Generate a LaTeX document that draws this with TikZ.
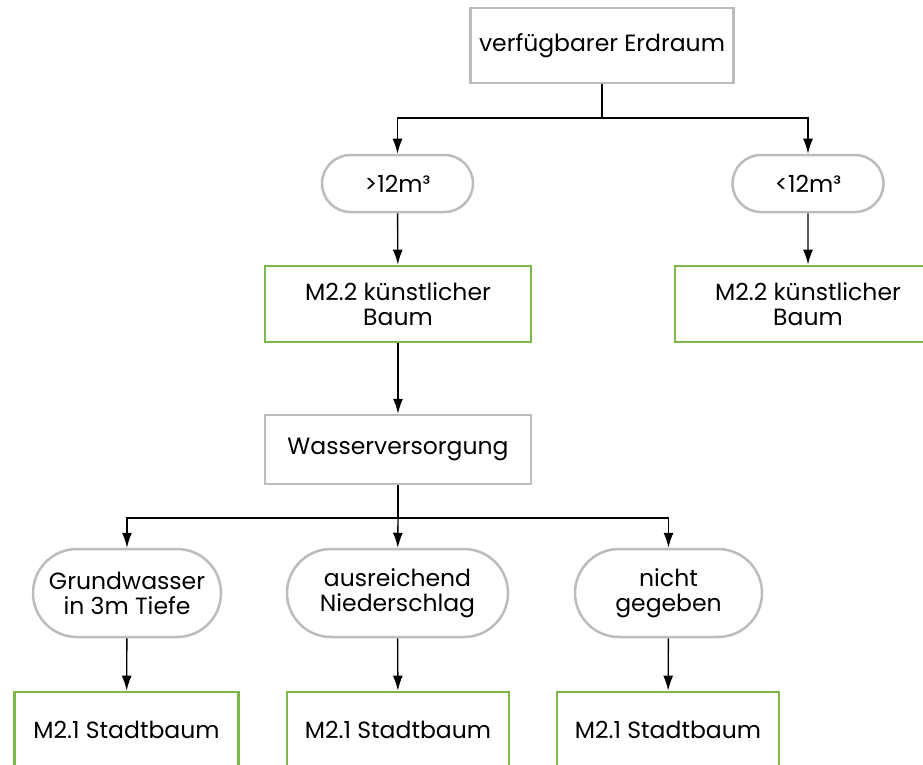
\documentclass[tikz,border=0pt]{standalone}
\usepackage{fontspec}
\setmainfont{Poppins}
\usepackage{xcolor}
\usepackage{tikz}
\usetikzlibrary{arrows.meta}
\usetikzlibrary{shapes.misc}
\usetikzlibrary{positioning}

\definecolor{boxgray}{RGB}{188,188,188}
\definecolor{boxgreen}{RGB}{124,184,74}

\tikzset{
  question/.style={rectangle, draw=boxgray, line width=2.5pt, fill=white, align=center},
  answer/.style={rounded rectangle, draw=boxgray, line width=2.5pt, fill=white, align=center},
  measure/.style={rectangle, draw=boxgreen, line width=2.8pt, fill=white, align=center},
  flow/.style={line width=1.4pt, ->, >={Latex[length=15pt,width=10pt]}}
}

\begin{document}
\begin{tikzpicture}
[every node/.style={inner sep=0pt}, font=\fontsize{23.5}{25}\selectfont]
\clip (0pt,0pt) rectangle (923pt,-764pt);
% decision on available soil volume
\node (erdraum) [question, minimum width=263pt, minimum height=75pt] at (602pt, -45.5pt) {verfügbarer Erdraum};
\node (gross) [answer, minimum width=151pt, minimum height=57pt] at (397.5pt, -183.5pt) {>12m³};
\node (klein) [answer, minimum width=151pt, minimum height=57pt] at (808pt, -183.5pt) {<12m³};
\node (kunstlinks) [measure, minimum width=266pt, minimum height=76pt] at (398pt, -304pt) {M2.2 künstlicher\\Baum};
\node (kunstrechts) [measure, minimum width=266pt, minimum height=76pt] at (808pt, -304pt) {M2.2 künstlicher\\Baum};
% decision on water supply
\node (wasser) [question, minimum width=266pt, minimum height=69pt] at (398pt, -449.5pt) {Wasserversorgung};
\node (grund) [answer, minimum width=188pt, minimum height=88pt] at (127pt, -593pt) {Grundwasser\\in 3m Tiefe};
\node (nieder) [answer, minimum width=221pt, minimum height=88pt] at (397.5pt, -593pt) {ausreichend\\Niederschlag};
\node (nicht) [answer, minimum width=187pt, minimum height=88pt] at (668.5pt, -593pt) {nicht\\gegeben};
\node (stadt1) [measure, minimum width=224pt, minimum height=76pt] at (126.5pt, -730pt) {M2.1 Stadtbaum};
\node (stadt2) [measure, minimum width=222pt, minimum height=76pt] at (398pt, -730pt) {M2.1 Stadtbaum};
\node (stadt3) [measure, minimum width=222pt, minimum height=76pt] at (668pt, -730pt) {M2.1 Stadtbaum};
\coordinate (split1) at (602pt, -118pt);
\coordinate (split2) at (398pt, -518pt);
\draw [line width=1.4pt] (erdraum) -- (split1);
\draw [flow] (split1) -| (gross);
\draw [flow] (split1) -| (klein);
\draw [flow] (gross) -- (kunstlinks);
\draw [flow] (klein) -- (kunstrechts);
\draw [flow] (kunstlinks) -- (wasser);
\draw [line width=1.4pt] (wasser) -- (split2);
\draw [flow] (split2) -| (grund);
\draw [flow] (split2) -- (nieder);
\draw [flow] (split2) -| (nicht);
\draw [flow] (grund) -- (stadt1);
\draw [flow] (nieder) -- (stadt2);
\draw [flow] (nicht) -- (stadt3);
\end{tikzpicture}
\end{document}
